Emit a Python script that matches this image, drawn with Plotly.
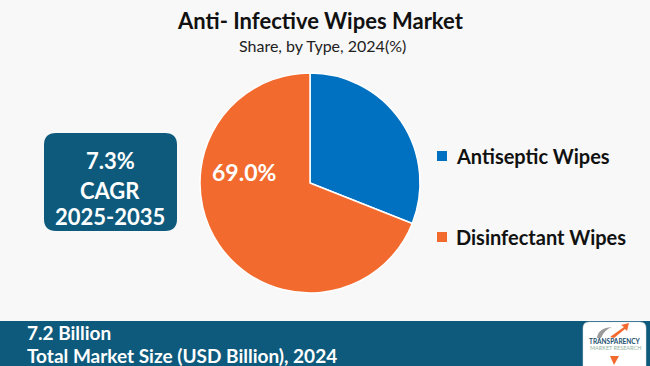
import plotly.graph_objects as go

labels = ["Antiseptic Wipes", "Disinfectant Wipes"]
values = [31.0, 69.0]
colors = ["#0070C0", "#F26A2E"]
label_shown = [False, True]

title = "Anti- Infective Wipes Market"
subtitle = "Share, by Type, 2024(%)"
cagr_lines = ["7.3%", "CAGR", "2025-2035"]
market_value = "7.2 Billion"
market_label = "Total Market Size (USD Billion), 2024"

W, H = 650, 366
def px(x): return x / W
def py(y): return 1 - y / H

CX, CY, R = 310, 183, 110

fig = go.Figure()
fig.add_trace(go.Pie(
    labels=labels, values=values, sort=False, direction="clockwise", rotation=0,
    marker=dict(colors=colors, line=dict(color="white", width=1.5)),
    textinfo="none",
    domain=dict(x=[px(CX - R), px(CX + R)], y=[py(CY + R), py(CY - R)]),
    showlegend=False, hoverinfo="label+percent",
))

shapes = []
annotations = []

# Slice label (placed inside the big slice, as in the reference)
total = sum(values)
for v, show in zip(values, label_shown):
    if show:
        annotations.append(dict(x=px(CX - 66), y=py(CY - 11), xref="paper", yref="paper",
                                text="<b>%.1f%%</b>" % (100 * v / total), showarrow=False,
                                font=dict(family="Lato", size=23, color="white"),
                                xanchor="center", yanchor="middle"))

# Title and subtitle
annotations.append(dict(x=px(320), y=py(21), xref="paper", yref="paper", text="<b>" + title + "</b>",
                        showarrow=False, font=dict(family="Lato", size=22, color="#111111"),
                        xanchor="center", yanchor="middle"))
annotations.append(dict(x=px(322), y=py(45), xref="paper", yref="paper", text=subtitle,
                        showarrow=False, font=dict(family="Lato", size=16, color="#222222"),
                        xanchor="center", yanchor="middle"))

# Legend (manual)
legend_y = [156, 237]
for lab, col, ly in zip(labels, colors, legend_y):
    shapes.append(dict(type="rect", xref="paper", yref="paper",
                       x0=px(437), x1=px(447), y0=py(ly + 5), y1=py(ly - 5),
                       fillcolor=col, line=dict(width=0)))
    annotations.append(dict(x=px(454), y=py(ly), xref="paper", yref="paper", text="<b>" + lab + "</b>",
                            showarrow=False, font=dict(family="Lato", size=20, color="#111111"),
                            xanchor="left", yanchor="middle"))

def rounded_rect(x0, y0, x1, y1, r):
    return (f"M {x0+r},{y0} L {x1-r},{y0} Q {x1},{y0} {x1},{y0+r} "
            f"L {x1},{y1-r} Q {x1},{y1} {x1-r},{y1} L {x0+r},{y1} Q {x0},{y1} {x0},{y1-r} "
            f"L {x0},{y0+r} Q {x0},{y0} {x0+r},{y0} Z")

# CAGR box
shapes.append(dict(type="path", xref="x", yref="y", path=rounded_rect(44, 133, 177, 231, 12),
                   fillcolor="#0E5A7C", line=dict(width=0), layer="above"))
for txt, yy in zip(cagr_lines, [160, 190, 216]):
    annotations.append(dict(x=px(110), y=py(yy), xref="paper", yref="paper", text="<b>" + txt + "</b>",
                            showarrow=False, font=dict(family="Lato", size=22, color="white"),
                            xanchor="center", yanchor="middle"))

# Bottom band
shapes.append(dict(type="rect", xref="paper", yref="paper", x0=0, x1=1, y0=0, y1=py(321),
                   fillcolor="#0E5A7C", line=dict(width=0)))
annotations.append(dict(x=px(25), y=py(332), xref="paper", yref="paper", text="<b>" + market_value + "</b>",
                        showarrow=False, font=dict(family="Lato", size=19, color="white"),
                        xanchor="left", yanchor="middle"))
annotations.append(dict(x=px(25), y=py(355), xref="paper", yref="paper", text="<b>" + market_label + "</b>",
                        showarrow=False, font=dict(family="Lato", size=19, color="white"),
                        xanchor="left", yanchor="middle"))

# Logo
shapes.append(dict(type="path", xref="x", yref="y", path=rounded_rect(583, 322, 646, 372, 6),
                   fillcolor="white", line=dict(color="#dddddd", width=0.5), layer="above"))
shapes.append(dict(type="path", xref="x", yref="y",
                   path="M 597,338 Q 598,328 612,327 Q 604,330 601,338 Z",
                   fillcolor="#9a9a9a", line=dict(width=0), layer="above"))
shapes.append(dict(type="path", xref="x", yref="y",
                   path="M 610,337 L 624,327 L 621,325 L 629,323 L 627,331 L 625,329 L 614,338 Z",
                   fillcolor="#F26A2E", line=dict(width=0), layer="above"))
shapes.append(dict(type="path", xref="x", yref="y",
                   path="M 610,356 L 619,356 L 614,365 Z",
                   fillcolor="#F26A2E", line=dict(width=0), layer="above"))
annotations.append(dict(x=px(615), y=py(341), xref="paper", yref="paper", text="<b>TRANSPARENCY</b>",
                        showarrow=False, font=dict(family="Lato", size=6.5, color="#1a4f6e"),
                        xanchor="center", yanchor="middle"))
annotations.append(dict(x=px(615), y=py(348), xref="paper", yref="paper", text="MARKET RESEARCH",
                        showarrow=False, font=dict(family="Lato", size=5.5, color="#8fb3a0"),
                        xanchor="center", yanchor="middle"))

fig.update_layout(
    width=W, height=H, margin=dict(l=0, r=0, t=0, b=0),
    paper_bgcolor="#F8F8F8", plot_bgcolor="rgba(0,0,0,0)",
    xaxis=dict(range=[0, W], visible=False, fixedrange=True),
    yaxis=dict(range=[H, 0], visible=False, fixedrange=True),
    shapes=shapes, annotations=annotations, showlegend=False,
)

fig.write_html("out.html", config={"displayModeBar": False},
               post_script="document.body.style.margin='0';document.body.style.overflow='hidden';")
